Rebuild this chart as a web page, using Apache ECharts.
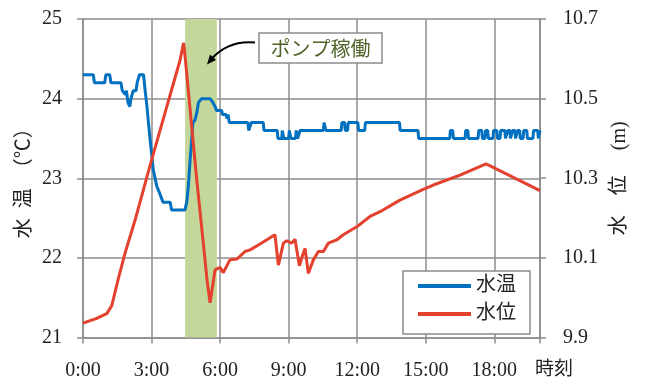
<!DOCTYPE html>
<html>
<head>
<meta charset="utf-8">
<script src="https://cdn.jsdelivr.net/npm/echarts@6/dist/echarts.min.js"></script>
<style>html,body{margin:0;padding:0;background:#fff}#c{width:645px;height:381px}</style>
</head>
<body>
<div id="c"></div>
<script>
// x-axis ticks (hours) and labels
var xTicks = [0, 3, 6, 9, 12, 15, 18];
// water temperature (left axis, °C)
var tempTimes = [0,0.45,0.5,0.95,1.0,1.17,1.22,1.66,1.72,1.85,1.9,1.97,2.05,2.1,2.2,2.32,2.37,2.47,2.65,2.72,2.8,2.93,3.08,3.23,3.37,3.5,3.81,3.88,4.46,4.54,4.61,4.68,4.76,4.81,4.9,4.98,5.05,5.19,5.56,5.69,5.78,5.85,6.07,6.1,6.26,6.3,6.35,6.4,6.45,7.22,7.25,7.33,7.37,7.89,7.92,8.5,8.53,8.7,8.72,8.76,8.79,9.0,9.03,9.07,9.1,9.3,9.33,9.36,9.39,9.47,9.5,10.52,10.55,10.6,10.63,11.3,11.33,11.45,11.48,11.58,11.61,12.03,12.06,12.33,12.36,13.85,13.88,14.66,14.69,16.05,16.08,16.18,16.21,16.72,16.75,16.84,16.87,17.29,17.32,17.45,17.48,17.59,17.62,17.71,17.74,17.94,17.97,18.11,18.14,18.25,18.28,18.46,18.49,18.56,18.59,18.68,18.71,18.77,18.8,18.9,18.93,18.99,19.02,19.11,19.14,19.26,19.29,19.42,19.45,19.69,19.72,19.9,19.93,20];
var tempValues = [24.3,24.3,24.2,24.2,24.3,24.3,24.2,24.2,24.1,24.05,24.1,23.95,23.9,24.0,24.1,24.1,24.2,24.3,24.3,24.1,23.9,23.5,23.1,22.9,22.8,22.7,22.7,22.6,22.6,22.7,22.9,23.2,23.5,23.7,23.73,23.82,23.95,24.0,24.0,23.95,23.9,23.85,23.85,23.8,23.8,23.75,23.8,23.7,23.7,23.7,23.6,23.6,23.7,23.7,23.6,23.6,23.5,23.5,23.6,23.6,23.5,23.5,23.6,23.6,23.5,23.5,23.6,23.6,23.5,23.5,23.6,23.6,23.7,23.7,23.6,23.6,23.7,23.7,23.6,23.6,23.7,23.7,23.6,23.6,23.7,23.7,23.6,23.6,23.5,23.5,23.6,23.6,23.5,23.5,23.6,23.6,23.5,23.5,23.6,23.6,23.5,23.5,23.6,23.6,23.5,23.5,23.6,23.6,23.5,23.5,23.6,23.6,23.5,23.5,23.6,23.6,23.5,23.5,23.6,23.6,23.5,23.5,23.6,23.6,23.5,23.5,23.6,23.6,23.5,23.5,23.6,23.6,23.5,23.6];
// water level (right axis, m)
var levelTimes = [0,0.6,1.04,1.26,1.53,1.84,2.28,2.93,3.59,4.25,4.4,4.44,4.64,4.97,5.25,5.43,5.56,5.78,6.0,6.14,6.43,6.73,7.09,7.31,7.75,8.4,8.55,8.77,8.91,9.13,9.28,9.47,9.57,9.72,9.86,10.08,10.3,10.52,10.74,11.1,11.39,11.98,12.56,13.0,13.87,14.89,15.33,16.5,17.64,20];
var levelValues = [9.936,9.948,9.96,9.98,10.044,10.112,10.195,10.331,10.464,10.597,10.64,10.622,10.502,10.301,10.145,10.044,9.987,10.07,10.076,10.063,10.095,10.097,10.116,10.12,10.135,10.158,10.082,10.137,10.143,10.137,10.147,10.08,10.1,10.124,10.061,10.095,10.116,10.116,10.137,10.145,10.158,10.178,10.204,10.216,10.245,10.272,10.283,10.308,10.336,10.269];
// pump operating period (hours)
var pumpPeriod = [4.47, 5.86];

function zip(a, b) { return a.map(function (v, i) { return [v, b[i]]; }); }

var FONT = "'Liberation Serif', 'Noto Sans CJK JP', serif";
var GRID = '#8c8c8c';
var chart = echarts.init(document.getElementById('c'), null, {renderer: 'canvas'});
chart.setOption({
  animation: false,
  backgroundColor: '#fff',
  textStyle: {fontFamily: FONT},
  grid: {left: 83, right: 105, top: 19, bottom: 43.5, containLabel: false},
  xAxis: {
    type: 'value', min: 0, max: 20, interval: 3,
    axisLine: {show: true, lineStyle: {color: GRID, width: 1.5}},
    axisTick: {show: true, length: 6, lineStyle: {color: GRID, width: 1.5}},
    splitLine: {show: true, lineStyle: {color: GRID, width: 1.5}},
    axisLabel: {margin: 23, fontSize: 20, color: '#222', fontFamily: FONT,
      formatter: function (v) { return xTicks.indexOf(v) >= 0 ? v + ':00' : ''; }},
    name: '時刻', nameLocation: 'end', nameGap: -5, nameMoveOverlap: false,
    nameTextStyle: {fontSize: 19, color: '#222', fontFamily: FONT, verticalAlign: 'top', padding: [23, 0, 0, 0]}
  },
  yAxis: [{
    type: 'value', min: 21, max: 25, interval: 1, position: 'left',
    axisLine: {show: true, lineStyle: {color: GRID, width: 1.5}},
    axisTick: {show: true, length: 6, lineStyle: {color: GRID, width: 1.5}},
    splitLine: {show: true, lineStyle: {color: GRID, width: 1.5}},
    axisLabel: {margin: 21, fontSize: 20, color: '#222', fontFamily: FONT},
    name: '水\u2002温\u3000（℃）', nameLocation: 'middle', nameGap: 48, nameMoveOverlap: false,
    nameTextStyle: {fontSize: 20, color: '#222', fontFamily: FONT}
  }, {
    type: 'value', min: 9.9, max: 10.7, interval: 0.2, position: 'right',
    axisLine: {show: true, lineStyle: {color: GRID, width: 1.5}},
    axisTick: {show: true, length: 6, lineStyle: {color: GRID, width: 1.5}},
    splitLine: {show: false},
    axisLabel: {margin: 23, fontSize: 20, color: '#222', fontFamily: FONT,
      formatter: function (v) { return v.toFixed(1); }},
    name: '水　位　 (m)', nameLocation: 'middle', nameGap: 70, nameMoveOverlap: false,
    nameTextStyle: {fontSize: 20, color: '#222', fontFamily: FONT}
  }],
  legend: {
    data: ['水温', '水位'], orient: 'vertical', left: 403, top: 271,
    icon: 'rect', itemWidth: 53, itemHeight: 4, itemGap: 8,
    padding: [5, 14, 10, 15], borderColor: GRID, borderWidth: 1.5, backgroundColor: '#fff',
    textStyle: {fontSize: 20, color: '#222', fontFamily: FONT}
  },
  series: [{
    name: 'band', type: 'line', data: [], z: 1, silent: true,
    markArea: {silent: true, itemStyle: {color: '#c4d79b', opacity: 1},
      data: [[{xAxis: pumpPeriod[0]}, {xAxis: pumpPeriod[1]}]]}
  }, {
    name: '水温', type: 'line', yAxisIndex: 0, data: zip(tempTimes, tempValues),
    showSymbol: false, z: 3, lineStyle: {color: '#0070c0', width: 3}, itemStyle: {color: '#0070c0'}
  }, {
    name: '水位', type: 'line', yAxisIndex: 1, data: zip(levelTimes, levelValues),
    showSymbol: false, z: 4, lineStyle: {color: '#e3402d', width: 3}, itemStyle: {color: '#e3402d'}
  }],
  graphic: [
    {type: 'rect', shape: {x: 259, y: 33, width: 123, height: 30}, z: 10,
      style: {fill: '#fff', stroke: GRID, lineWidth: 1.5}},
    {type: 'text', x: 320.5, y: 48, z: 11,
      style: {text: 'ポンプ稼働', fill: '#4f6228', font: "20px 'Noto Sans CJK JP'", align: 'center', verticalAlign: 'middle'}},
    {type: 'bezierCurve', z: 10, shape: {x1: 255, y1: 42.5, x2: 211, y2: 59.5, cpx1: 228, cpy1: 40},
      style: {stroke: '#000', lineWidth: 2, fill: null}},
    {type: 'polygon', z: 10, shape: {points: [[207, 64.5], [216, 60], [210, 54.5]]},
      style: {fill: '#000'}}
  ]
});
</script>
</body>
</html>
